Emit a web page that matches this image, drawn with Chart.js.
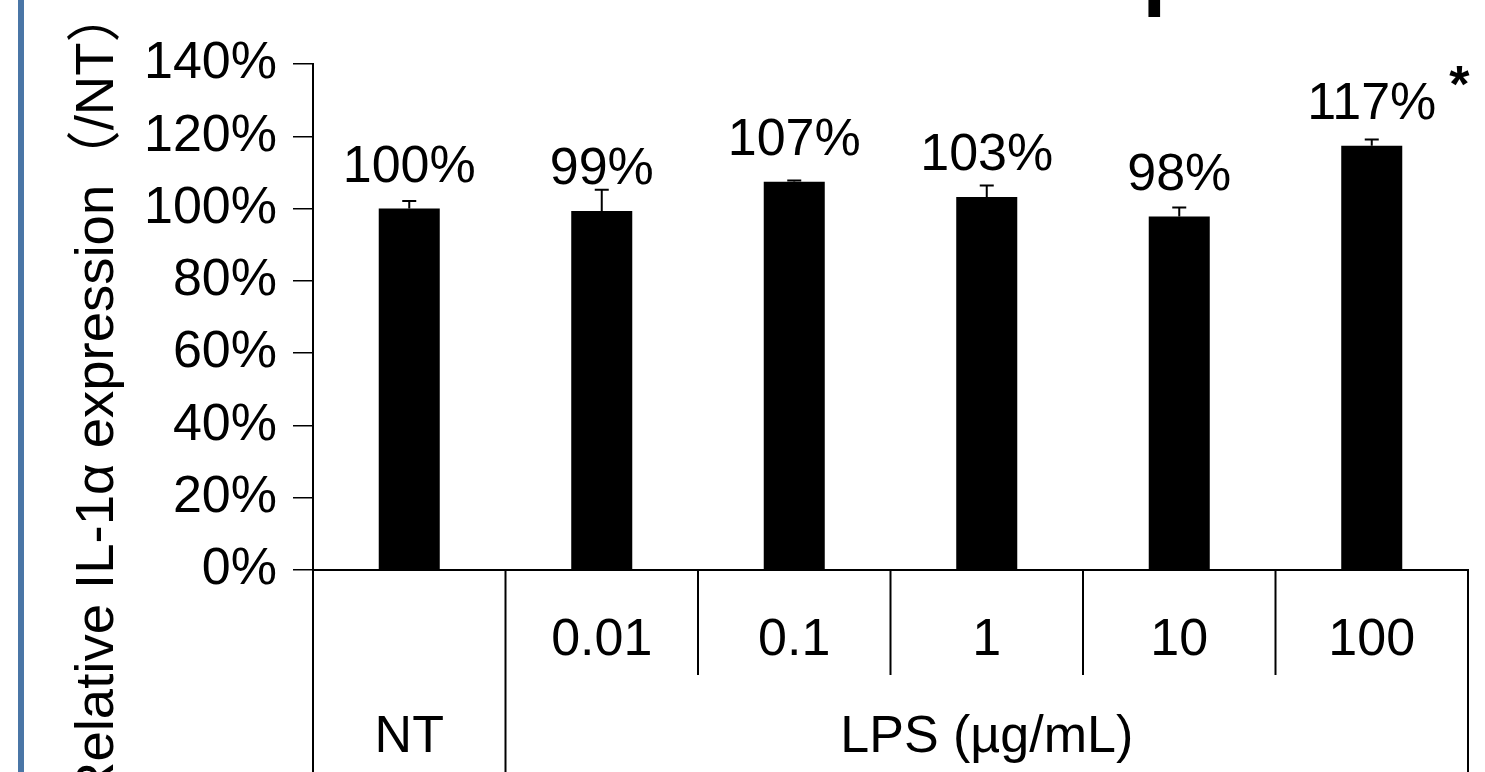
<!DOCTYPE html>
<html>
<head>
<meta charset="utf-8">
<script src="https://cdn.jsdelivr.net/npm/chart.js@4.4.1/dist/chart.umd.min.js"></script>
<style>
  html, body { margin: 0; padding: 0; background: #fff; overflow: hidden; }
  #wrap { width: 1485px; height: 772px; }
</style>
</head>
<body>
<div id="wrap"><canvas id="chart" width="1485" height="772"></canvas></div>
<script>
// ===== Dados =====
const categories = ['NT', '0.01', '0.1', '1', '10', '100'];
const values = [100, 99.3, 107.4, 103.2, 97.8, 117.4];   // % relativo ao NT
const errors = [2.1, 5.9, 0.4, 3.2, 2.5, 1.7];            // barra de erro (só para cima)
const marks = ['', '', '', '', '', '*'];
const groups = [
  { label: 'NT', size: 1 },
  { label: 'LPS (µg/mL)', size: 5 }
];
const yTickMin = 0;
const yTickMax = 140;
const yTickStep = 20;

const titleText = 'Effect of LPS on IL-1α expression';
const yTitleText = 'Relative IL-1α expression（/NT）';

const FONT = "'Liberation Sans', Arial, 'Noto Sans CJK SC', sans-serif";
const TEXT_SIZE = 52;

// ===== Fundo, borda do slide e títulos =====
const decorPlugin = {
  id: 'decor',
  beforeDraw(chart) {
    const ctx = chart.ctx;
    ctx.save();
    ctx.fillStyle = '#fff';
    ctx.fillRect(0, 0, chart.width, chart.height);
    ctx.fillStyle = '#4a76a6';
    ctx.fillRect(18, 0, 6, chart.height);

    // título cortado no topo (só aparece a parte de baixo)
    ctx.fillStyle = '#000';
    ctx.font = `bold 85px ${FONT}`;
    ctx.textAlign = 'left';
    ctx.textBaseline = 'alphabetic';
    ctx.fillText(titleText, 141, -1);

    // título do eixo y
    ctx.translate(113, -12);
    ctx.rotate(-Math.PI / 2);
    ctx.font = `54.5px ${FONT}`;
    ctx.textAlign = 'right';
    ctx.textBaseline = 'alphabetic';
    ctx.fillText(yTitleText, 0, 0);
    ctx.restore();
  }
};

// ===== Barras de erro e rótulos =====
const barExtras = {
  id: 'barExtras',
  afterDatasetsDraw(chart) {
    const ctx = chart.ctx;
    const y = chart.scales.y;
    const meta = chart.getDatasetMeta(0);
    ctx.save();
    ctx.strokeStyle = '#000';
    ctx.fillStyle = '#000';
    ctx.lineWidth = 2;
    meta.data.forEach((bar, i) => {
      const top = y.getPixelForValue(values[i] + errors[i]);
      ctx.beginPath();
      ctx.moveTo(bar.x, bar.y);
      ctx.lineTo(bar.x, top);
      ctx.moveTo(bar.x - 7, top);
      ctx.lineTo(bar.x + 7, top);
      ctx.stroke();

      const txt = Math.round(values[i]) + '%';
      ctx.font = `${TEXT_SIZE}px ${FONT}`;
      ctx.textAlign = 'center';
      ctx.textBaseline = 'alphabetic';
      ctx.fillText(txt, bar.x, bar.y - 27);
      if (marks[i]) {
        const w = ctx.measureText(txt).width;
        ctx.font = `bold ${TEXT_SIZE}px ${FONT}`;
        ctx.textAlign = 'left';
        ctx.fillText(marks[i], bar.x + w / 2 + 13, bar.y - 44);
      }
    });
    ctx.restore();
  }
};

// ===== Tabela do eixo x (duas linhas) =====
const groupAxis = {
  id: 'groupAxis',
  afterDraw(chart) {
    const ctx = chart.ctx;
    const x = chart.scales.x;
    const area = chart.chartArea;
    const n = categories.length;
    const edge = i => {
      if (i === 0) return area.left;
      if (i === n) return area.right;
      return (x.getPixelForValue(i - 1) + x.getPixelForValue(i)) / 2;
    };
    const groupEdges = [0];
    groups.forEach(g => groupEdges.push(groupEdges[groupEdges.length - 1] + g.size));

    ctx.save();
    ctx.strokeStyle = '#000';
    ctx.lineWidth = 2;
    for (let i = 0; i <= n; i++) {
      const full = groupEdges.includes(i);
      ctx.beginPath();
      ctx.moveTo(edge(i), area.bottom);
      ctx.lineTo(edge(i), full ? chart.height : area.bottom + 105);
      ctx.stroke();
    }
    ctx.fillStyle = '#000';
    ctx.font = `${TEXT_SIZE}px ${FONT}`;
    ctx.textAlign = 'center';
    ctx.textBaseline = 'alphabetic';
    groups.forEach((g, k) => {
      const cx = (edge(groupEdges[k]) + edge(groupEdges[k + 1])) / 2;
      ctx.fillText(g.label, cx, area.bottom + 182);
    });
    ctx.restore();
  }
};

// categorias sozinhas no grupo não aparecem na primeira linha
const singles = [];
let pos = 0;
groups.forEach(g => { if (g.size === 1) singles.push(pos); pos += g.size; });

new Chart(document.getElementById('chart'), {
  type: 'bar',
  data: {
    labels: categories,
    datasets: [{
      data: values,
      backgroundColor: '#000',
      borderWidth: 0,
      barPercentage: 0.317,
      categoryPercentage: 1
    }]
  },
  options: {
    responsive: false,
    animation: false,
    layout: { padding: { top: 64, right: 17, left: 0, bottom: 0 } },
    plugins: {
      legend: { display: false },
      tooltip: { enabled: false }
    },
    scales: {
      x: {
        grid: { display: false, drawTicks: false },
        border: { color: '#000', width: 2 },
        ticks: {
          color: '#000',
          font: { family: FONT, size: TEXT_SIZE },
          padding: 39,
          maxRotation: 0,
          autoSkip: false,
          callback: function(value, index) {
            return singles.includes(index) ? '' : categories[index];
          }
        },
        afterFit(scale) { scale.height = 202; }
      },
      y: {
        min: yTickMin,
        max: yTickMax,
        ticks: {
          stepSize: yTickStep,
          color: '#000',
          font: { family: FONT, size: TEXT_SIZE },
          padding: 16,
          callback: v => v + '%'
        },
        grid: { drawOnChartArea: false, drawTicks: true, tickLength: 20, color: '#000', lineWidth: 1.5 },
        border: { color: '#000', width: 2 },
        afterFit(scale) { scale.width = 313; }
      }
    }
  },
  plugins: [decorPlugin, barExtras, groupAxis]
});
</script>
</body>
</html>
